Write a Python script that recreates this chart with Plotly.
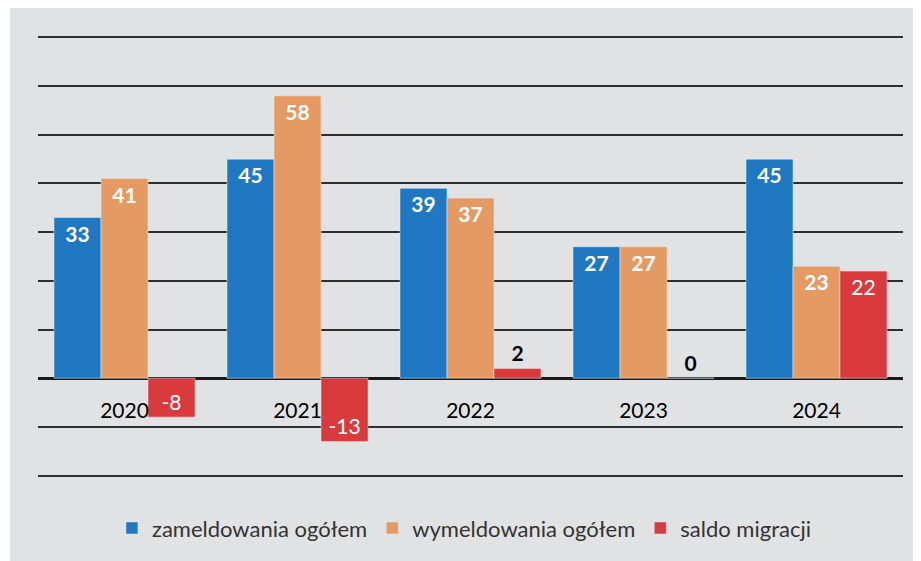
import plotly.graph_objects as go

# lata i wartosci
years = ["2020", "2021", "2022", "2023", "2024"]
zameldowania = [33, 45, 39, 27, 45]
wymeldowania = [41, 58, 37, 27, 23]
saldo = [-8, -13, 2, 0, 22]

# gdzie rysowac etykiete salda (male slupki maja etykiete nad slupkiem)
saldo_textpos = ["inside", "inside", "outside", "outside", "inside"]

FONT = "Lato"
BLUE = "#1f78c1"
ORANGE = "#e59a63"
RED = "#d93a3e"
LBL = 21

fig = go.Figure()

fig.add_trace(go.Bar(
    x=years, y=zameldowania, name="zameldowania ogółem",
    marker_color=BLUE, text=zameldowania, textposition="inside",
    insidetextanchor="end",
    insidetextfont=dict(color="white", size=LBL, family=FONT, weight="bold"),
))
fig.add_trace(go.Bar(
    x=years, y=wymeldowania, name="wymeldowania ogółem",
    marker_color=ORANGE, text=wymeldowania, textposition="inside",
    insidetextanchor="end",
    insidetextfont=dict(color="white", size=LBL, family=FONT, weight="bold"),
))
fig.add_trace(go.Bar(
    x=years, y=saldo, name="saldo migracji",
    marker_color=RED, text=saldo, textposition=saldo_textpos,
    insidetextanchor="end",
    insidetextfont=dict(color="white", size=LBL, family=FONT),
    outsidetextfont=dict(color="black", size=LBL, family=FONT, weight="bold"),
    cliponaxis=False,
))

# szare tlo calego panelu (jak na skanie)
fig.add_shape(type="rect", xref="paper", yref="paper",
              x0=-0.0324, x1=1.0208, y0=-0.194, y1=1.0685,
              fillcolor="#e1e2e3", line_width=0, layer="below")

# strona ma 8px marginesu body, wiec figura jest o 8px mniejsza
fig.update_layout(
    width=913, height=553,
    margin=dict(l=30, r=18, t=28, b=84),
    paper_bgcolor="white",
    plot_bgcolor="rgba(255,255,255,0.45)",
    barmode="group",
    bargap=0.185,
    bargroupgap=0.0,
    font=dict(family=FONT, size=LBL, color="black"),
    showlegend=True,
    legend=dict(orientation="h", x=0.493, xanchor="center", y=-0.116, yanchor="middle",
                font=dict(size=22, color="#333333"), bgcolor="rgba(0,0,0,0)",
                itemwidth=30, tracegroupgap=0),
)

fig.update_yaxes(
    range=[-20.3, 70.3], dtick=10, showticklabels=False,
    showgrid=True, gridcolor="#2e2e2e", gridwidth=1.5,
    zeroline=True, zerolinecolor="#1a1a1a", zerolinewidth=3,
    showline=False,
)
fig.update_xaxes(
    anchor="free", position=20.3 / 90.6,
    showline=False, showgrid=False, ticks="",
    ticklabelstandoff=18,
    tickfont=dict(size=LBL, color="black", family=FONT),
)

fig.write_html("out.html")
